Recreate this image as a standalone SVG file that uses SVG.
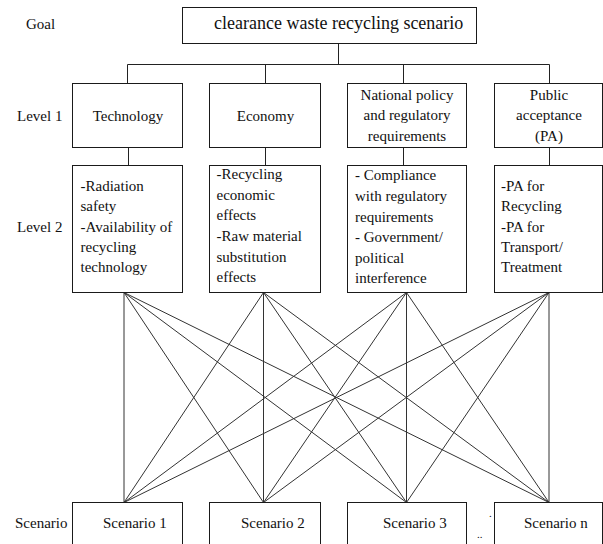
<svg xmlns="http://www.w3.org/2000/svg" width="603" height="544" viewBox="0 0 603 544">
<style>
  .box { fill: #fff; stroke: #1a1a1a; stroke-width: 1; }
  text { font-family: 'Liberation Serif', 'DejaVu Serif', serif; fill: #111; }
  .t { font-size: 15px; }
  .lab { font-size: 15px; }
  .c { text-anchor: middle; }
  .ln { stroke: #222; stroke-width: 1; fill: none; }
  .dg { stroke: #333; stroke-width: 1; fill: none; }
</style>
<rect width="603" height="544" fill="#fff"/>

<g id="connectors">
  <path class="ln" d="M338.5 43.5 V64.5 M127.5 64.5 H549.5 M127.5 64.5 V83.5 M265.5 64.5 V83.5 M403.5 64.5 V83.5 M549.5 64.5 V83.5"/>
  <path class="ln" d="M128.5 147.5 V165.5 M265.5 147.5 V165.5 M403.5 147.5 V165.5 M549.5 147.5 V165.5"/>
  <g class="dg">
    <line x1="124" y1="292.5" x2="124" y2="502.5"/>
    <line x1="124" y1="292.5" x2="263.5" y2="502.5"/>
    <line x1="124" y1="292.5" x2="406.5" y2="502.5"/>
    <line x1="124" y1="292.5" x2="549" y2="502.5"/>
    <line x1="263.5" y1="292.5" x2="124" y2="502.5"/>
    <line x1="263.5" y1="292.5" x2="263.5" y2="502.5"/>
    <line x1="263.5" y1="292.5" x2="406.5" y2="502.5"/>
    <line x1="263.5" y1="292.5" x2="549" y2="502.5"/>
    <line x1="406.5" y1="292.5" x2="124" y2="502.5"/>
    <line x1="406.5" y1="292.5" x2="263.5" y2="502.5"/>
    <line x1="406.5" y1="292.5" x2="406.5" y2="502.5"/>
    <line x1="406.5" y1="292.5" x2="549" y2="502.5"/>
    <line x1="549" y1="292.5" x2="124" y2="502.5"/>
    <line x1="549" y1="292.5" x2="263.5" y2="502.5"/>
    <line x1="549" y1="292.5" x2="406.5" y2="502.5"/>
    <line x1="549" y1="292.5" x2="549" y2="502.5"/>
  </g>
</g>

<g id="row-labels">
  <text class="lab" x="26" y="29">Goal</text>
  <text class="lab" x="17" y="121">Level 1</text>
  <text class="lab" x="17" y="232">Level 2</text>
  <text class="lab" x="15" y="528" font-size="14">Scenario</text>
</g>

<g id="goal">
  <rect class="box" x="182.5" y="7.5" width="294" height="36"/>
  <text x="214" y="29" font-size="18">clearance waste recycling scenario</text>
</g>

<g id="technology">
  <rect class="box" x="72.5" y="83.5" width="110" height="64"/>
  <text class="t c" x="128" y="120.5">Technology</text>
</g>
<g id="economy">
  <rect class="box" x="209.5" y="83.5" width="111" height="64"/>
  <text class="t c" x="265.5" y="120.5">Economy</text>
</g>
<g id="national-policy">
  <rect class="box" x="347.5" y="83.5" width="119" height="64"/>
  <text class="t c" x="407" y="99.5">National policy</text>
  <text class="t c" x="407" y="120.3">and regulatory</text>
  <text class="t c" x="407" y="141">requirements</text>
</g>
<g id="public-acceptance">
  <rect class="box" x="494.5" y="83.5" width="108" height="64"/>
  <text class="t c" x="549" y="99.5">Public</text>
  <text class="t c" x="549" y="120.3">acceptance</text>
  <text class="t c" x="549" y="141">(PA)</text>
</g>

<g id="technology-criteria">
  <rect class="box" x="72.5" y="165.5" width="110" height="127"/>
  <text class="t" x="80.5" y="191">-Radiation</text>
  <text class="t" x="80.5" y="211.3">safety</text>
  <text class="t" x="80.5" y="231.7">-Availability of</text>
  <text class="t" x="80.5" y="252">recycling</text>
  <text class="t" x="80.5" y="272">technology</text>
</g>
<g id="economy-criteria">
  <rect class="box" x="209.5" y="165.5" width="111" height="127"/>
  <text class="t" x="216.5" y="178.7">-Recycling</text>
  <text class="t" x="216.5" y="199.5">economic</text>
  <text class="t" x="216.5" y="220.2">effects</text>
  <text class="t" x="216.5" y="241">-Raw material</text>
  <text class="t" x="216.5" y="261.5">substitution</text>
  <text class="t" x="216.5" y="282">effects</text>
</g>
<g id="policy-criteria">
  <rect class="box" x="347.5" y="165.5" width="119" height="127"/>
  <text class="t" x="355" y="180.3">- Compliance</text>
  <text class="t" x="355" y="201">with regulatory</text>
  <text class="t" x="355" y="221.5">requirements</text>
  <text class="t" x="355" y="242.2">- Government/</text>
  <text class="t" x="355" y="262.7">political</text>
  <text class="t" x="355" y="283">interference</text>
</g>
<g id="pa-criteria">
  <rect class="box" x="494.5" y="165.5" width="108" height="127"/>
  <text class="t" x="501" y="191">-PA for</text>
  <text class="t" x="501" y="211.3">Recycling</text>
  <text class="t" x="501" y="231.7">-PA for</text>
  <text class="t" x="501" y="252">Transport/</text>
  <text class="t" x="501" y="272">Treatment</text>
</g>

<g id="scenario-1">
  <rect class="box" x="72.5" y="502.5" width="110" height="50"/>
  <text class="t" x="103" y="528.3">Scenario 1</text>
</g>
<g id="scenario-2">
  <rect class="box" x="209.5" y="502.5" width="111" height="50"/>
  <text class="t" x="241" y="528.3">Scenario 2</text>
</g>
<g id="scenario-3">
  <rect class="box" x="347.5" y="502.5" width="119" height="50"/>
  <text class="t" x="383" y="528.3">Scenario 3</text>
</g>
<g id="ellipsis">
  <text x="489" y="517" font-size="11">.</text>
  <text x="477" y="538" font-size="11">..</text>
</g>
<g id="scenario-n">
  <rect class="box" x="494.5" y="502.5" width="108" height="50"/>
  <text class="t" x="524" y="528.3">Scenario n</text>
</g>
</svg>
